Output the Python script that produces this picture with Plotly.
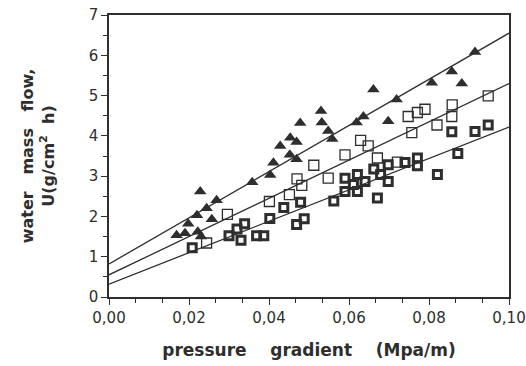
import plotly.graph_objects as go

# ---- data ----
tri_x = [0.0169, 0.0190, 0.0198, 0.0222, 0.0230, 0.0244, 0.0257, 0.0220, 0.0269, 0.0228,
         0.0358, 0.0403, 0.0411, 0.0428, 0.0452, 0.0469, 0.0453, 0.0469, 0.0478, 0.0530,
         0.0532, 0.0548, 0.0558, 0.0619, 0.0636, 0.0661, 0.0698, 0.0719, 0.0807, 0.0857,
         0.0882, 0.0915]
tri_y = [1.53, 1.58, 1.82, 1.62, 1.50, 2.20, 1.93, 2.03, 2.40, 2.62,
         2.85, 3.03, 3.33, 3.75, 3.53, 3.42, 3.95, 3.85, 4.32, 4.62,
         4.33, 4.12, 3.92, 4.33, 4.48, 5.15, 4.36, 4.90, 5.32, 5.60,
         5.30, 6.08]

open_x = [0.0244, 0.0296, 0.0401, 0.0451, 0.0470, 0.0482, 0.0512, 0.0548, 0.0590, 0.0629,
          0.0648, 0.0671, 0.0721, 0.0748, 0.0757, 0.0771, 0.0790, 0.0820, 0.0857, 0.0858,
          0.0948]
open_y = [1.34, 2.05, 2.37, 2.54, 2.93, 2.77, 3.27, 2.95, 3.53, 3.89,
          3.75, 3.45, 3.35, 4.48, 4.08, 4.58, 4.66, 4.27, 4.48, 4.77,
          4.99]

fill_x = [0.0208, 0.0300, 0.0320, 0.0330, 0.0339, 0.0369, 0.0387, 0.0402, 0.0437, 0.0469,
          0.0479, 0.0488, 0.0562, 0.0590, 0.0590, 0.0611, 0.0621, 0.0621, 0.0640, 0.0662,
          0.0671, 0.0679, 0.0698, 0.0698, 0.0740, 0.0771, 0.0771, 0.0821, 0.0857, 0.0872,
          0.0915, 0.0948]
fill_y = [1.22, 1.52, 1.69, 1.41, 1.82, 1.52, 1.52, 1.95, 2.22, 1.80,
          2.35, 1.94, 2.38, 2.95, 2.62, 2.79, 3.04, 2.62, 2.87, 3.18,
          2.46, 3.04, 3.28, 2.87, 3.34, 3.45, 3.26, 3.04, 4.10, 3.56,
          4.11, 4.27]

fit_x = [0.0, 0.10]
fit_top = [0.82, 6.55]
fit_mid = [0.55, 5.30]
fit_bot = [0.32, 4.22]

x_ticks = [0.0, 0.02, 0.04, 0.06, 0.08, 0.10]
y_ticks = [0, 1, 2, 3, 4, 5, 6, 7]

INK = "#2e2e2e"
FONT = "DejaVu Sans, Liberation Sans, sans-serif"
SP3 = "\u00a0" * 3
SP4 = "\u00a0" * 4

fig = go.Figure()
for fy in (fit_top, fit_mid, fit_bot):
    fig.add_trace(go.Scatter(x=fit_x, y=fy, mode="lines",
                             line=dict(color=INK, width=1.3), showlegend=False,
                             hoverinfo="skip"))

fig.add_trace(go.Scatter(x=tri_x, y=tri_y, mode="markers", showlegend=False,
                         marker=dict(symbol="triangle-up", size=11, color=INK,
                                     line=dict(width=0))))
fig.add_trace(go.Scatter(x=open_x, y=open_y, mode="markers", showlegend=False,
                         marker=dict(symbol="square-open", size=10, color=INK,
                                     line=dict(width=1.3, color=INK))))
fig.add_trace(go.Scatter(x=fill_x, y=fill_y, mode="markers", showlegend=False,
                         marker=dict(symbol="square-open", size=8, color=INK,
                                     line=dict(width=3, color=INK))))

fig.update_layout(
    width=526, height=366,
    margin=dict(l=109, r=17, t=15, b=69),
    paper_bgcolor="white", plot_bgcolor="white",
    separators=",.",
    font=dict(family=FONT, color=INK, size=15),
    showlegend=False,
)
fig.update_xaxes(
    range=[0, 0.10], tickvals=x_ticks, tickformat=".2f", automargin=False,
    ticklabeloverflow="allow",
    showgrid=False, zeroline=False,
    showline=True, linecolor=INK, linewidth=1.5, mirror=True,
    ticks="outside", ticklen=6, tickwidth=1.3, tickcolor=INK,
    minor=dict(dtick=0.02 / 3, ticks="outside", ticklen=4, tickwidth=1, tickcolor=INK),
    tickfont=dict(size=15, family=FONT, color=INK),
    title=dict(text="<b>pressure" + SP4 + "gradient" + SP4 + "(Mpa/m)</b>",
               font=dict(size=17, family=FONT, color=INK), standoff=18),
)
fig.update_yaxes(
    range=[0, 7], tickvals=y_ticks, automargin=False,
    ticklabeloverflow="allow",
    showgrid=False, zeroline=False,
    showline=True, linecolor=INK, linewidth=1.5, mirror=True,
    ticks="outside", ticklen=6, tickwidth=1.3, tickcolor=INK,
    minor=dict(dtick=0.5, ticks="outside", ticklen=4, tickwidth=1, tickcolor=INK),
    tickfont=dict(size=15, family=FONT, color=INK),
    title=dict(text="<b>water" + SP3 + "mass" + SP3 + "flow,<br>U(g/cm<sup>2</sup>" + "\u00a0\u00a0" + "h)</b>",
               font=dict(size=16, family=FONT, color=INK), standoff=30),
)

# remove the default page margin so the 526x366 figure fills the window exactly
fig.write_html("out.html",
               config={"displayModeBar": False},
               post_script="document.body.style.margin='0';document.body.style.overflow='hidden';")
